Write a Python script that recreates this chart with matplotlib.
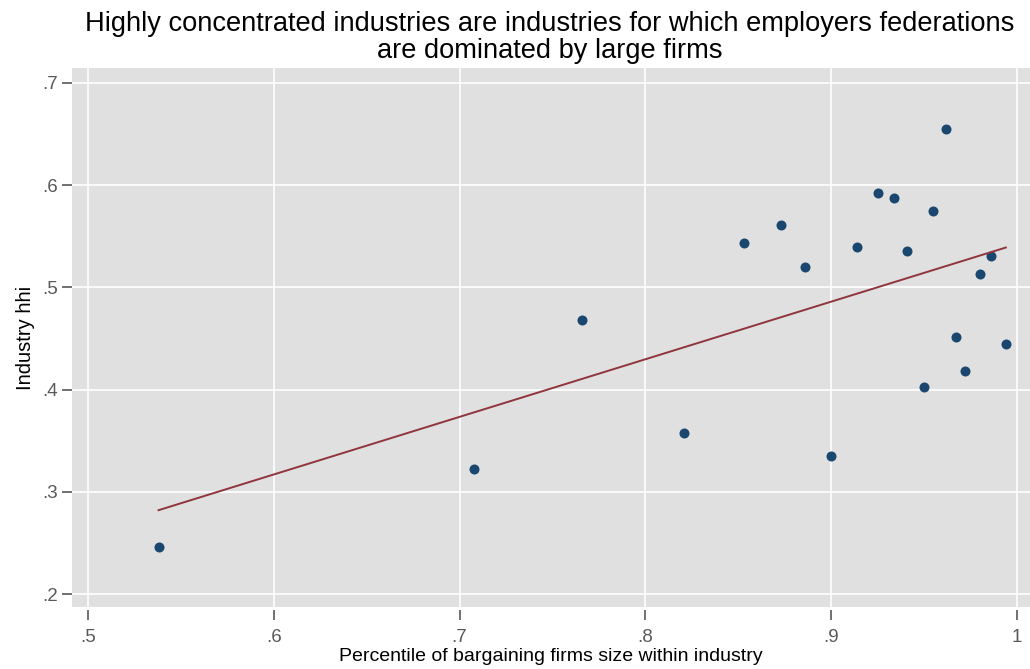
import matplotlib
matplotlib.use("Agg")

import matplotlib.pyplot as plt
import numpy as np

# percentile of bargaining firm size within industry vs industry HHI
pct_size = [0.538, 0.708, 0.766, 0.821, 0.853, 0.873, 0.886, 0.900, 0.914, 0.925,
            0.934, 0.941, 0.955, 0.950, 0.962, 0.967, 0.972, 0.980, 0.986, 0.994]
hhi = [0.246, 0.322, 0.468, 0.358, 0.543, 0.561, 0.520, 0.335, 0.540, 0.592,
       0.587, 0.536, 0.575, 0.403, 0.655, 0.451, 0.418, 0.513, 0.531, 0.445]

# linear fit as shown in the chart
fit_slope = 0.5636
fit_intercept = -0.0212

x_ticks = [0.5, 0.6, 0.7, 0.8, 0.9, 1.0]
x_labels = [".5", ".6", ".7", ".8", ".9", "1"]
y_ticks = [0.2, 0.3, 0.4, 0.5, 0.6, 0.7]
y_labels = [".2", ".3", ".4", ".5", ".6", ".7"]

plt.rcParams["font.family"] = ["Liberation Sans", "DejaVu Sans"]

x = np.array(pct_size)
y = np.array(hhi)
xf = np.array([x.min(), x.max()])

fig = plt.figure(figsize=(10.3, 6.69), dpi=100)
ax = fig.add_axes([0.0699, 0.0927, 0.9301, 0.8057])
ax.set_facecolor("#e0e0e0")

ax.grid(True, color="white", linewidth=1.2)
ax.set_axisbelow(True)

ax.scatter(x, y, s=52, color="#1a476f", zorder=3, linewidths=0)
ax.plot(xf, fit_intercept + fit_slope * xf, color="#90353b", linewidth=1.4, zorder=4)

ax.set_xlim(0.4914, 1.007)
ax.set_ylim(0.1873, 0.7147)
ax.set_xticks(x_ticks)
ax.set_xticklabels(x_labels)
ax.set_yticks(y_ticks)
ax.set_yticklabels(y_labels)

for s in ax.spines.values():
    s.set_visible(False)
ax.spines["bottom"].set_position(("outward", 2))
ax.tick_params(axis="both", colors="#595959", labelsize=13.5, length=7, width=1.2)
ax.tick_params(axis="x", pad=7)
ax.tick_params(axis="y", pad=3)

ax.set_xlabel("Percentile of bargaining firms size within industry", fontsize=14, labelpad=1)
ax.set_ylabel("Industry hhi", fontsize=14.5, labelpad=5)

fig.suptitle("Highly concentrated industries are industries for which employers federations\n"
             "are dominated by large firms", fontsize=19.6, linespacing=1.02, y=0.983, x=0.5335)

fig.savefig("out.png", dpi=100)
plt.close(fig)
